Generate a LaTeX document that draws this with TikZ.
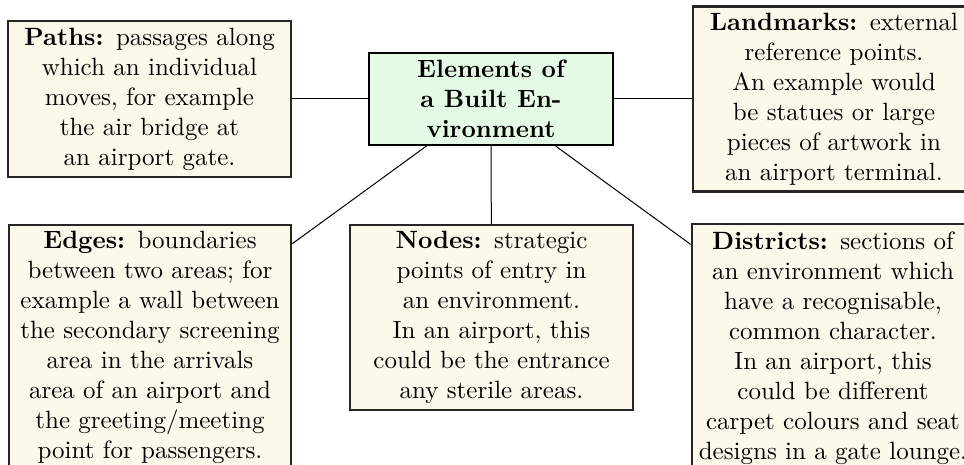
\documentclass[tikz,border=0pt]{standalone}
\usepackage{xcolor}
\definecolor{cream}{RGB}{251,250,234}
\definecolor{mint}{RGB}{228,250,229}
\tikzset{every picture/.style={line width=0.75pt}}
\tikzset{
  infobox/.style={draw=black!85, line width=0.9pt, fill=cream, align=center, text width=110pt, inner xsep=1.5pt, inner ysep=2pt},
  hubbox/.style={draw=black, line width=0.9pt, fill=mint, align=center, font=\bfseries, minimum width=97.6pt, minimum height=36.8pt, inner sep=2pt},
  link/.style={line width=0.4pt}
}

\begin{document}
\begin{tikzpicture}[x=0.4pt,y=0.4pt,yscale=-1,xscale=1]
\useasboundingbox (0,0) rectangle (964,465);
%Shape: Rectangle [id:hub]
\node[hubbox] (hub) at (491,99) {Elements of\\ a Built En-\\vironment};
%Shape: Rectangle [id:paths]
\node[infobox, minimum height=62.4pt] (paths) at (149.5,99) {\textbf{Paths:} passages along\\ which an individual\\ moves, for example\\ the air bridge at\\ an airport gate.};
%Shape: Rectangle [id:landmarks]
\node[infobox, minimum height=74pt] (landmarks) at (834,99) {\textbf{Landmarks:} external\\ reference points.\\ An example would\\ be statues or large\\ pieces of artwork in\\ an airport terminal.};
%Shape: Rectangle [id:edges]
\node[infobox, anchor=north, minimum height=97.6pt] (edges) at (150,224) {\textbf{Edges:} boundaries\\ between two areas; for\\ example a wall between\\ the secondary screening\\ area in the arrivals\\ area of an airport and\\ the greeting/meeting\\ point for passengers.};
%Shape: Rectangle [id:nodes]
\node[infobox, anchor=north, minimum height=74pt] (nodes) at (491.5,224) {\textbf{Nodes:} strategic\\ points of entry in\\ an environment.\\ In an airport, this\\ could be the entrance\\ any sterile areas.};
%Shape: Rectangle [id:districts]
\node[infobox, anchor=north, inner ysep=3pt] (districts) at (833,223) {\textbf{Districts:} sections of\\ an environment which\\ have a recognisable,\\ common character.\\ In an airport, this\\ could be different\\ carpet colours and seat\\ designs in a gate lounge.};

%Straight Lines
\draw[link] (paths) -- (hub);
\draw[link] (hub) -- (landmarks);
\draw[link] (hub) -- (edges);
\draw[link] (hub) -- (nodes);
\draw[link] (hub) -- (districts);
\end{tikzpicture}
\end{document}
